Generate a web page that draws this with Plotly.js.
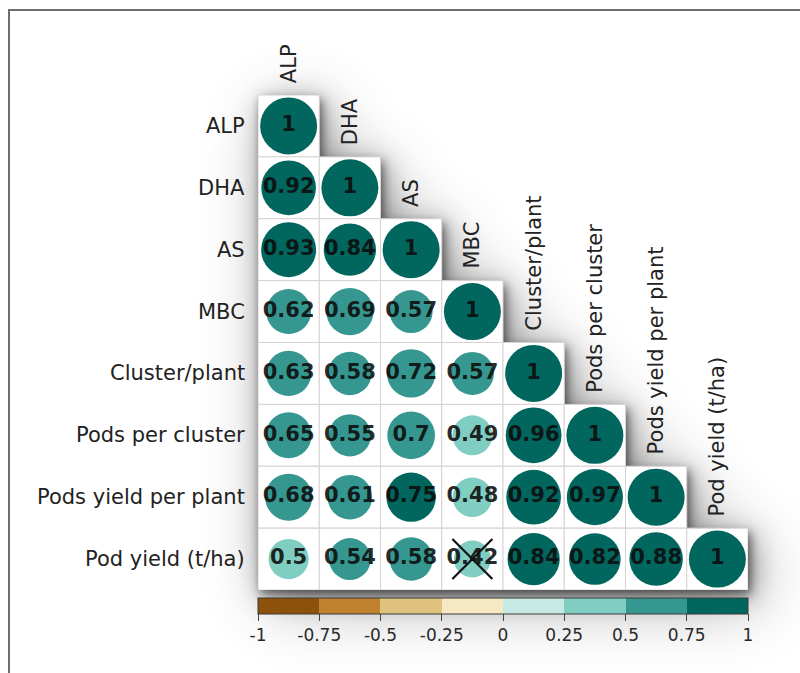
<!DOCTYPE html>
<html>
<head>
<meta charset="utf-8">
<script src="https://cdn.plot.ly/plotly-3.0.1.min.js"></script>
<style>
  html, body { margin: 0; padding: 0; background: #ffffff; }
  #wrap { position: relative; width: 800px; height: 673px; overflow: hidden; }
  #chart { width: 800px; height: 673px; }
  #frame {
    position: absolute; left: 8px; top: 9px; width: 792px; height: 664px;
    border-top: 2px solid #6e6e6e; border-left: 2px solid #6e6e6e;
    box-sizing: border-box; pointer-events: none;
  }
</style>
</head>
<body>
<div id="wrap">
  <div id="chart"></div>
  <div id="frame"></div>
</div>
<script>
// Variables of the correlation matrix (row / column order)
const vars = [
  "ALP", "DHA", "AS", "MBC", "Cluster/plant",
  "Pods per cluster", "Pods yield per plant", "Pod yield (t/ha)"
];

// Lower-triangle correlation coefficients, one row per variable
const rowALP     = [1];
const rowDHA     = [0.92, 1];
const rowAS      = [0.93, 0.84, 1];
const rowMBC     = [0.62, 0.69, 0.57, 1];
const rowCluster = [0.63, 0.58, 0.72, 0.57, 1];
const rowPodsPC  = [0.65, 0.55, 0.70, 0.49, 0.96, 1];
const rowPodsYPP = [0.68, 0.61, 0.75, 0.48, 0.92, 0.97, 1];
const rowPodYld  = [0.497, 0.54, 0.58, 0.42, 0.84, 0.82, 0.88, 1];
const corrRows = [rowALP, rowDHA, rowAS, rowMBC, rowCluster, rowPodsPC, rowPodsYPP, rowPodYld];

// Non-significant pairs, as [row, column]
const insignificant = [[7, 3]];

// Colour legend ticks
const legendTicks = [-1, -0.75, -0.5, -0.25, 0, 0.25, 0.5, 0.75, 1];
const legendTickText = ["-1", "-0.75", "-0.5", "-0.25", "0", "0.25", "0.5", "0.75", "1"];

// Eight-step BrBG palette
const palette = ["#8c510a", "#bf812d", "#dfc27d", "#f6e8c3", "#c7eae5", "#80cdc1", "#35978f", "#01665e"];

// ---- build traces ----
const n = vars.length;
const fmt = v => String(Math.round(v * 100) / 100);

const px = [], py = [], pv = [], ptxt = [];
corrRows.forEach((row, i) => {
  row.forEach((v, j) => {
    px.push(j); py.push(i); pv.push(v); ptxt.push(fmt(v));
  });
});

// stepped colour scale: hard edges between the eight classes
const colorscale = [];
palette.forEach((c, k) => {
  colorscale.push([k / palette.length, c]);
  colorscale.push([(k + 1) / palette.length, c]);
});

const fullDiameter = 57;   // circle diameter (px) for |r| = 1; area follows |r|
const sizes = pv.map(v => fullDiameter * Math.sqrt(Math.abs(v)));

const circles = {
  type: "scatter", mode: "markers",
  x: px, y: py,
  hoverinfo: "skip",
  marker: {
    symbol: "circle",
    size: sizes, sizemode: "diameter", opacity: 1,
    color: pv, colorscale: colorscale, cmin: -1, cmax: 1,
    line: { width: 0 },
    showscale: true,
    colorbar: {
      orientation: "h",
      x: 0.5, xanchor: "center",
      y: -0.017, yanchor: "top",
      len: 1, lenmode: "fraction",
      thickness: 16, thicknessmode: "pixels",
      xpad: 0, ypad: 0,
      outlinewidth: 1, outlinecolor: "#3a3a3a",
      tickmode: "array", tickvals: legendTicks, ticktext: legendTickText,
      ticks: "outside", ticklen: 7, tickwidth: 1, tickcolor: "#444",
      tickfont: { family: "DejaVu Sans", size: 17, color: "#2a2a2a" }
    }
  }
};

const numbers = {
  type: "scatter", mode: "text",
  x: px, y: py, text: ptxt,
  textposition: "middle center",
  hoverinfo: "skip",
  textfont: { family: "DejaVu Sans", size: 21, weight: "bold", color: "rgba(12,12,12,0.9)" }
};

const crosses = {
  type: "scatter", mode: "markers",
  x: insignificant.map(c => c[1]),
  y: insignificant.map(c => c[0]),
  hoverinfo: "skip",
  marker: { symbol: "x-thin", size: 40, opacity: 1, line: { width: 2.2, color: "#111" } }
};

// white cells with a light grid, lower triangle only
const shapes = [];
corrRows.forEach((row, i) => {
  row.forEach((v, j) => {
    shapes.push({
      type: "rect", xref: "x", yref: "y", layer: "below",
      x0: j - 0.5, x1: j + 0.5, y0: i - 0.5, y1: i + 0.5,
      fillcolor: "#ffffff", line: { color: "#d9d2d5", width: 1 }
    });
  });
});

// row labels on the left, column labels on the diagonal
const annotations = [];
vars.forEach((name, i) => {
  annotations.push({
    xref: "paper", yref: "y", x: 0, y: i,
    xanchor: "right", yanchor: "middle", xshift: -11,
    text: name, showarrow: false,
    font: { family: "DejaVu Sans", size: 21, color: "#222" }
  });
  annotations.push({
    xref: "x", yref: "y", x: i, y: i - 0.5,
    xanchor: "center", yanchor: "bottom", yshift: 10,
    text: name, textangle: -90, showarrow: false,
    font: { family: "DejaVu Sans", size: 21, color: "#222" }
  });
});

// soft drop shadow behind the triangular block (cell units)
const stairs = [[0, 0]];
for (let k = 0; k < n; k++) { stairs.push([k + 1, k]); stairs.push([k + 1, k + 1]); }
stairs.push([0, n]);
const ptsStr = stairs.map(p => p.join(",")).join(" ");
const pad = 2, box = n + 2 * pad;
const filt = (id, sd) =>
  "<filter id='" + id + "' filterUnits='userSpaceOnUse' x='" + (-pad) + "' y='" + (-pad) +
  "' width='" + box + "' height='" + box + "'><feGaussianBlur stdDeviation='" + sd + "'/></filter>";
const shadowSvg =
  "<svg xmlns='http://www.w3.org/2000/svg' viewBox='" + (-pad) + " " + (-pad) + " " + box + " " + box + "' preserveAspectRatio='none'>" +
  "<defs>" + filt("wide", 0.55) + filt("mid", 0.22) + filt("near", 0.08) + "</defs>" +
  "<polygon points='" + ptsStr + "' transform='translate(0.18 0.22)' fill='#000' opacity='0.32' filter='url(#wide)'/>" +
  "<polygon points='" + ptsStr + "' transform='translate(0.08 0.1)' fill='#000' opacity='0.35' filter='url(#mid)'/>" +
  "<polygon points='" + ptsStr + "' transform='translate(0.04 0.07)' fill='#000' opacity='0.5' filter='url(#near)'/>" +
  "</svg>";

const images = [{
  source: "data:image/svg+xml;charset=utf-8," + encodeURIComponent(shadowSvg),
  xref: "paper", yref: "paper",
  x: -pad / n, y: 1 + pad / n,
  sizex: box / n, sizey: box / n,
  xanchor: "left", yanchor: "top",
  sizing: "stretch", layer: "below"
}];

const layout = {
  width: 800, height: 673,
  margin: { l: 258, r: 52, t: 95, b: 83 },
  paper_bgcolor: "#ffffff",
  plot_bgcolor: "rgba(0,0,0,0)",
  showlegend: false,
  xaxis: {
    range: [-0.5, n - 0.5], showgrid: false, zeroline: false,
    showticklabels: false, ticks: "", showline: false, fixedrange: true
  },
  yaxis: {
    range: [n - 0.5, -0.5], showgrid: false, zeroline: false,
    showticklabels: false, ticks: "", showline: false, fixedrange: true
  },
  shapes: shapes,
  annotations: annotations,
  images: images
};

Plotly.newPlot("chart", [circles, numbers, crosses], layout, { staticPlot: true, displayModeBar: false });
</script>
</body>
</html>
